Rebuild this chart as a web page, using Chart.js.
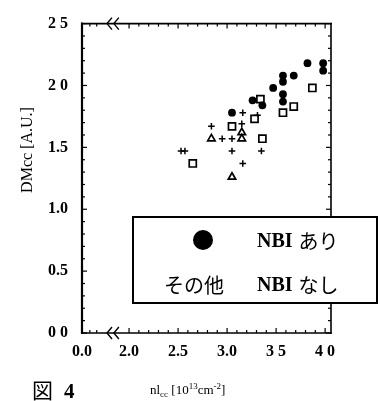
<!DOCTYPE html>
<html><head><meta charset="utf-8">
<script src="https://cdn.jsdelivr.net/npm/chart.js@4.4.1/dist/chart.umd.min.js"></script>
<style>html,body{margin:0;padding:0;background:#fff;}canvas{display:block;}</style>
</head><body>
<canvas id="c" width="381" height="401"></canvas>
<script>
// NBI あり (filled circles)
const nbiX = [3.05, 3.26, 3.36, 3.47, 3.57, 3.57, 3.68, 3.57, 3.57, 3.82, 3.98, 3.98];
const nbiY = [1.78, 1.88, 1.84, 1.98, 2.08, 2.03, 2.08, 1.93, 1.87, 2.18, 2.18, 2.12];
// NBI なし (others): squares, triangles, crosses
const sqX = [2.65, 3.05, 3.28, 3.34, 3.36, 3.57, 3.68, 3.87];
const sqY = [1.37, 1.67, 1.73, 1.89, 1.57, 1.78, 1.83, 1.98];
const triX = [2.84, 3.15, 3.15, 3.05];
const triY = [1.57, 1.62, 1.57, 1.26];
const crX = [2.53, 2.57, 2.84, 2.95, 3.05, 3.05, 3.16, 3.15, 3.16, 3.31, 3.35];
const crY = [1.47, 1.47, 1.67, 1.57, 1.57, 1.47, 1.78, 1.69, 1.37, 1.76, 1.47];
// tick labels
const xTickValues = [1.52, 2.0, 2.5, 3.0, 3.5, 4.0];
const xTickLabels = ['0.0', '2.0', '2.5', '3.0', '3 5', '4 0'];
const yTickValues = [0, 0.5, 1.0, 1.5, 2.0, 2.5];
const yTickLabels = ['0 0', '0.5', '1.0', '1.5', '2 0', '2 5'];
const yTitle = 'DMcc [A.U.]';
const legendRows = [['', 'NBI ', 'あり'], ['その他', 'NBI ', 'なし']];
const figLabel = ['図', '4'];

const pts = (xs, ys) => xs.map((x, i) => ({x: x, y: ys[i]}));
const serif = '"Liberation Serif", "Noto Sans CJK JP", serif';

const deco = {
  id: 'deco',
  afterDraw(chart) {
    const c = chart.ctx, a = chart.chartArea, xs = chart.scales.x, ys = chart.scales.y;
    const line = (x1, y1, x2, y2) => { c.beginPath(); c.moveTo(x1, y1); c.lineTo(x2, y2); c.stroke(); };
    c.save();
    c.strokeStyle = '#000'; c.fillStyle = '#000'; c.lineCap = 'square';
    c.lineWidth = 2.2; line(a.left, a.top, a.left, a.bottom);
    c.lineWidth = 1.6;
    line(a.left, a.top, a.right, a.top);
    line(a.left, a.bottom, a.right, a.bottom);
    line(a.right, a.top, a.right, a.bottom);
    c.lineCap = 'butt';
    c.lineWidth = 1.2;
    for (let k = 0; k <= 25; k++) {
      const v = k / 10, p = ys.getPixelForValue(v), len = (k % 5 === 0) ? 5 : 3;
      line(a.left, p, a.left + len, p);
      line(a.right, p, a.right - len, p);
    }
    const xm = [1.6, 1.67];
    for (let k = 20; k <= 40; k++) xm.push(k / 10);
    xm.forEach(v => {
      const p = xs.getPixelForValue(v), len = (Math.round(v * 10) % 5 === 0 && v >= 2) ? 5 : 3;
      line(p, a.bottom, p, a.bottom - len);
      line(p, a.top, p, a.top + len);
    });
    // axis break marks
    c.lineWidth = 1.4;
    [1.775, 1.845].forEach(v => {
      const p = xs.getPixelForValue(v);
      [a.top, a.bottom].forEach(y => {
        c.beginPath(); c.moveTo(p + 5, y - 6); c.lineTo(p, y); c.lineTo(p + 5, y + 6); c.stroke();
      });
    });
    // legend box
    const L = 133, T = 217, R = 377, B = 303;
    c.fillStyle = '#fff'; c.fillRect(L, T, R - L, B - T);
    c.lineWidth = 2; c.strokeRect(L, T, R - L, B - T);
    c.fillStyle = '#000';
    c.beginPath(); c.arc(203, 240, 10, 0, Math.PI * 2); c.fill();
    c.textBaseline = 'middle'; c.textAlign = 'left';
    const rowY = [241, 285];
    legendRows.forEach((r, i) => {
      c.font = '20px "Noto Sans CJK JP"';
      if (r[0]) c.fillText(r[0], 164, rowY[i]);
      c.font = 'bold 20px ' + serif;
      c.fillText(r[1], 257, rowY[i] + 1);
      const w = c.measureText(r[1]).width;
      c.font = '20px "Noto Sans CJK JP"';
      c.fillText(r[2], 257 + w + 1, rowY[i]);
    });
    // y title
    c.save();
    c.translate(28, 150); c.rotate(-Math.PI / 2);
    c.textAlign = 'center'; c.font = '16px ' + serif;
    c.fillText(yTitle, 0, 0);
    c.restore();
    // x title with sub/superscripts
    c.textAlign = 'left'; c.textBaseline = 'alphabetic';
    let x = 150; const yb = 394;
    const part = (t, size, dy) => { c.font = size + 'px ' + serif; c.fillText(t, x, yb + dy); x += c.measureText(t).width; };
    part('nl', 13, 0); part('cc', 9, 3); part(' [10', 13, 0); part('13', 9, -5); part('cm', 13, 0); part('-2', 9, -5); part(']', 13, 0);
    // figure label
    c.font = '21px "Noto Sans CJK JP"';
    c.fillText(figLabel[0], 32, 398);
    c.font = 'bold 21px ' + serif;
    c.fillText(figLabel[1], 64, 398);
    c.restore();
  }
};

new Chart(document.getElementById('c'), {
  type: 'scatter',
  data: { datasets: [
    { label: 'NBI あり', data: pts(nbiX, nbiY), pointStyle: 'circle', pointRadius: 3.9, backgroundColor: '#000', borderColor: '#000', borderWidth: 0 },
    { label: 'NBI なし (□)', data: pts(sqX, sqY), pointStyle: 'rect', pointRadius: 5, backgroundColor: '#fff', borderColor: '#000', borderWidth: 1.7 },
    { label: 'NBI なし (△)', data: pts(triX, triY), pointStyle: 'triangle', pointRadius: 4.3, backgroundColor: '#fff', borderColor: '#000', borderWidth: 1.7 },
    { label: 'NBI なし (+)', data: pts(crX, crY), pointStyle: 'cross', pointRadius: 3.3, backgroundColor: '#000', borderColor: '#000', borderWidth: 1.5 }
  ]},
  options: {
    responsive: false, animation: false, devicePixelRatio: 1,
    layout: { padding: { left: 14, top: 20, right: 50, bottom: 0 } },
    plugins: { legend: { display: false }, tooltip: { enabled: false } },
    scales: {
      x: {
        type: 'linear', min: 1.52, max: 4.06,
        grid: { display: false, drawTicks: false }, border: { display: false },
        afterBuildTicks: s => { s.ticks = xTickValues.map(v => ({ value: v })); },
        afterFit: s => { s.height = 68; },
        ticks: { callback: (v, i) => xTickLabels[i], padding: 9, color: '#000', maxRotation: 0, autoSkip: false,
                 font: { family: serif, size: 16, weight: 'bold' } }
      },
      y: {
        type: 'linear', min: 0, max: 2.5,
        grid: { display: false, drawTicks: false }, border: { display: false },
        afterBuildTicks: s => { s.ticks = yTickValues.map(v => ({ value: v })); },
        afterFit: s => { s.width = 68; },
        ticks: { callback: (v, i) => yTickLabels[i], padding: 14, color: '#000', autoSkip: false,
                 font: { family: serif, size: 16, weight: 'bold' } }
      }
    }
  },
  plugins: [deco]
});
</script>
</body></html>
